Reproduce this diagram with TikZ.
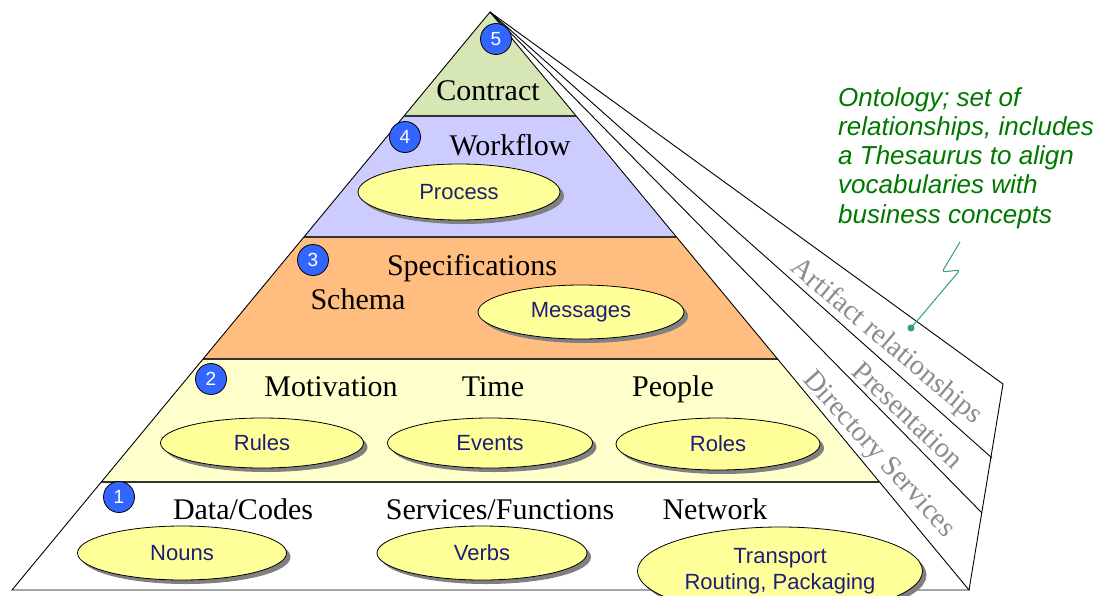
\documentclass[tikz,border=0pt]{standalone}
\usepackage{fontspec}
\setmainfont{Liberation Serif}
\setsansfont{Liberation Sans}
\usetikzlibrary{calc,shapes.geometric,shadows}

\definecolor{tierA}{RGB}{214,230,180}
\definecolor{tierB}{RGB}{204,204,255}
\definecolor{tierC}{RGB}{255,189,128}
\definecolor{tierD}{RGB}{255,255,204}
\definecolor{ovalfill}{RGB}{255,255,153}
\definecolor{ovaltext}{RGB}{30,30,120}
\definecolor{badgeblue}{RGB}{51,102,255}
\definecolor{notegreen}{RGB}{0,120,0}
\definecolor{leadgreen}{RGB}{51,160,110}
\definecolor{sidegray}{RGB}{140,140,140}

\begin{document}
\begin{tikzpicture}[x=1pt,y=-1pt,
  edge/.style={draw=black,line width=0.9pt},
  tierline/.style={draw=black!80,line width=1.1pt},
  tierlabel/.style={anchor=base,inner sep=0,font=\fontsize{30}{34}\selectfont},
  sidelabel/.style={inner sep=0,text=sidegray,font=\fontsize{28.5}{30}\selectfont},
  oval/.style={ellipse,draw=black,line width=0.8pt,fill=ovalfill,text=ovaltext,
    inner sep=0,align=center,font=\sffamily\fontsize{22}{26}\selectfont,
    drop shadow={shadow xshift=4pt,shadow yshift=-4pt,fill=black!50,opacity=1}},
  badge/.style={circle,draw=black,line width=0.8pt,fill=badgeblue,text=white,
    minimum size=31,inner sep=0,font=\sffamily\fontsize{19}{19}\selectfont},
  note/.style={anchor=north west,align=left,inner sep=0,text=notegreen,
    font=\sffamily\itshape\fontsize{26}{29.3}\selectfont}]

\useasboundingbox (0,0) rectangle (1108,595);
\clip (0,0) rectangle (1108,595);

% pyramid corners and side-face corners
\coordinate (apex) at (490,12);
\coordinate (bl) at (12,590);
\coordinate (br) at (969,590);
\coordinate (s1) at (1003,384);
\coordinate (s2) at (992,458);
\coordinate (s3) at (982,513);

% tier boundary points on the two front edges
\foreach \n/\t in {a/0.1799,b/0.3893,c/0.6003,d/0.8131}{
  \coordinate (l\n) at ($(apex)!\t!(bl)$);
  \coordinate (r\n) at ($(apex)!\t!(br)$);
}

% tier fills
\fill[tierA] (apex) -- (ra) -- (la) -- cycle;
\fill[tierB] (la) -- (ra) -- (rb) -- (lb) -- cycle;
\fill[tierC] (lb) -- (rb) -- (rc) -- (lc) -- cycle;
\fill[tierD] (lc) -- (rc) -- (rd) -- (ld) -- cycle;
\draw[tierline] (la) -- (ra) (lb) -- (rb) (lc) -- (rc) (ld) -- (rd);

% side faces and front outline
\draw[edge] (apex) -- (s1) -- (br);
\draw[edge] (apex) -- (s2);
\draw[edge] (apex) -- (s3);
\draw[edge] (apex) -- (bl) -- (br) -- cycle;

% side face labels
\node[sidelabel,rotate=-40] (artifact) at (886,342) {Artifact relationships};
\node[sidelabel,rotate=-43.5] (presentation) at (908,415) {Presentation};
\node[sidelabel,rotate=-48] (directory) at (878,455) {Directory Services};

% level 5
\node[badge] (b5) at (496,39) {5};
\node[tierlabel] (contract) at (488,100) {Contract};

% level 4
\node[badge] (b4) at (405,137) {4};
\node[tierlabel] (workflow) at (510,155) {Workflow};
\node[oval,minimum width=202,minimum height=56] (process) at (459,192) {Process};

% level 3
\node[badge] (b3) at (313,260) {3};
\node[tierlabel] (specs) at (472,275) {Specifications};
\node[tierlabel] (schema) at (358,309) {Schema};
\node[oval,minimum width=206,minimum height=54] (messages) at (581,312) {Messages};

% level 2
\node[badge] (b2) at (211,379) {2};
\node[tierlabel] (motivation) at (331,396) {Motivation};
\node[tierlabel] (time) at (493,396) {Time};
\node[tierlabel] (people) at (673,396) {People};
\node[oval,minimum width=203,minimum height=50] (rules) at (262,443) {Rules};
\node[oval,minimum width=205,minimum height=50] (events) at (490,443) {Events};
\node[oval,minimum width=204,minimum height=52] (roles) at (718,444) {Roles};

% level 1
\node[badge] (b1) at (119,497) {1};
\node[tierlabel] (data) at (243,519) {Data/Codes};
\node[tierlabel] (services) at (500,519) {Services/Functions};
\node[tierlabel] (network) at (715,519) {Network};
\node[oval,minimum width=209,minimum height=54] (nouns) at (182,553) {Nouns};
\node[oval,minimum width=210,minimum height=54] (verbs) at (482,553) {Verbs};
\node[oval,minimum width=285,minimum height=88] (transport) at (780,571) {Transport\\Routing, Packaging};

% annotation with its lead line
\node[note] (ontology) at (838,87) {Ontology; set of\\relationships, includes\\a Thesaurus to align\\vocabularies with\\business concepts};
\coordinate (leadtop) at (960,242);
\node[circle,fill=leadgreen,minimum size=7,inner sep=0] (leaddot) at (911,328) {};
\draw[leadgreen,line width=1pt,rounded corners=3]
  (leadtop) -- (942,272) -- (960,270) -- (leaddot.center);
\end{tikzpicture}
\end{document}
